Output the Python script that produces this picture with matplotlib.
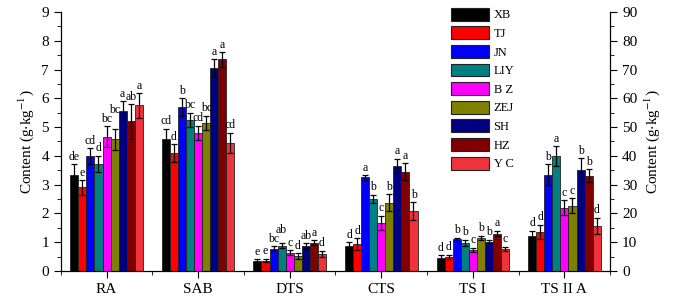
import matplotlib
matplotlib.use("Agg")
import matplotlib.pyplot as plt
import numpy as np
from matplotlib.ticker import MultipleLocator, FixedLocator

plt.rcParams["font.family"] = ["Liberation Serif", "DejaVu Serif"]
plt.rcParams["mathtext.fontset"] = "stix"

groups = ["RA", "SAB", "DTS", "CTS", "TS I", "TS II A"]
sites = ["XB", "TJ", "JN", "LIY", "BZ", "ZEJ", "SH", "HZ", "YC"]
colors = ["#000000", "#ff0000", "#0000ff", "#008080", "#ff00ff",
          "#808000", "#000080", "#800000", "#f0323c"]
legend_labels = ["XB", "TJ", "JN", "LIY", "B Z", "ZEJ", "SH", "HZ", "Y C"]

# left axis groups (g/kg), one value per site
ra = [3.35, 2.9, 3.98, 3.73, 4.67, 4.57, 5.55, 5.2, 5.75]
sab = [4.6, 4.1, 5.7, 5.25, 4.8, 5.15, 7.05, 7.35, 4.45]
dts = [0.35, 0.36, 0.77, 0.88, 0.63, 0.52, 0.87, 0.98, 0.6]
cts = [0.88, 0.94, 3.25, 2.5, 1.67, 2.37, 3.65, 3.45, 2.08]
ts1 = [0.46, 0.5, 1.1, 0.98, 0.73, 1.15, 1.02, 1.3, 0.77]
# right axis group
ts2a = [12.2, 13.6, 33.5, 39.8, 22.0, 22.7, 35.2, 33.1, 15.7]

ra_err = [0.35, 0.25, 0.28, 0.28, 0.35, 0.35, 0.35, 0.6, 0.42]
sab_err = [0.35, 0.3, 0.3, 0.25, 0.25, 0.25, 0.3, 0.25, 0.35]
dts_err = [0.06, 0.06, 0.08, 0.08, 0.08, 0.1, 0.1, 0.08, 0.1]
cts_err = [0.12, 0.2, 0.08, 0.15, 0.25, 0.3, 0.25, 0.3, 0.3]
ts1_err = [0.08, 0.07, 0.05, 0.1, 0.08, 0.07, 0.06, 0.1, 0.07]
ts2a_err = [1.8, 2.5, 3.5, 3.5, 2.5, 2.5, 4.0, 2.2, 2.8]

ra_sig = ["de", "e", "cd", "d", "bc", "bc", "a", "ab", "a"]
sab_sig = ["cd", "d", "b", "bc", "cd", "bc", "a", "a", "cd"]
dts_sig = ["e", "e", "bc", "ab", "c", "d", "ab", "a", "d"]
cts_sig = ["d", "d", "a", "b", "c", "b", "a", "a", "b"]
ts1_sig = ["d", "d", "b", "b", "c", "b", "b", "a", "c"]
ts2a_sig = ["d", "d", "b", "a", "c", "c", "b", "b", "d"]

left_vals = [ra, sab, dts, cts, ts1]
left_errs = [ra_err, sab_err, dts_err, cts_err, ts1_err]
left_sigs = [ra_sig, sab_sig, dts_sig, cts_sig, ts1_sig]

fig = plt.figure(figsize=(6.75, 3.0), dpi=100)
ax = fig.add_axes([0.09, 0.097, 0.814, 0.863])
ax2 = ax.twinx()

width = 0.088
offsets = (np.arange(len(sites)) - 4) * width


def draw_group(axis, gi, vals, errs, sigs, unit):
    # unit = data units per ~1 pixel-ish step of the letter height
    xs = gi + 0.5 + offsets
    for j in range(len(sites)):
        axis.bar(xs[j], vals[j], width, color=colors[j], edgecolor="#222222",
                 linewidth=0.6, zorder=2)
    axis.errorbar(xs, vals, yerr=errs, fmt="none", ecolor="black",
                  elinewidth=0.9, capsize=2.2, capthick=0.9, zorder=3)
    text_h = 0.3 * unit
    prev_y, prev_len = None, 0
    for j in range(len(sites)):
        y = vals[j] + errs[j] + 0.05 * unit
        # wide labels side by side: lift the later one so they don't collide
        if prev_y is not None and len(sigs[j]) > 1 and prev_len > 1 \
                and abs(y - prev_y) < text_h:
            y = prev_y + text_h
        axis.text(xs[j], y, sigs[j], ha="center", va="bottom", fontsize=8.5)
        prev_y, prev_len = y, len(sigs[j])


for gi in range(5):
    draw_group(ax, gi, left_vals[gi], left_errs[gi], left_sigs[gi], 1)
draw_group(ax2, 5, ts2a, ts2a_err, ts2a_sig, 10)

for a in (ax, ax2):
    a.set_xlim(0, 6)
    a.spines["top"].set_visible(False)

ax.set_ylim(0, 9)
ax2.set_ylim(0, 90)
ax.yaxis.set_major_locator(MultipleLocator(1))
ax.yaxis.set_minor_locator(MultipleLocator(0.5))
ax2.yaxis.set_major_locator(MultipleLocator(10))
ax2.yaxis.set_minor_locator(MultipleLocator(5))

ax.set_xticks(np.arange(6) + 0.5)
ax.set_xticklabels(groups)
ax.xaxis.set_minor_locator(FixedLocator(np.arange(7)))

ax.tick_params(axis="both", which="major", direction="out", length=5,
               labelsize=11)
ax.tick_params(axis="both", which="minor", direction="out", length=3)
ax2.tick_params(axis="y", which="major", direction="out", length=5,
                labelsize=11)
ax2.tick_params(axis="y", which="minor", direction="out", length=3)

ax.set_ylabel(r"Content (g$\cdot$kg$^{-1}$)", fontsize=11)
ax2.set_ylabel(r"Content (g$\cdot$kg$^{-1}$)", fontsize=11)

handles = [plt.Rectangle((0, 0), 1, 1, facecolor=c, edgecolor="#222222",
                         linewidth=0.8) for c in colors]
ax2.legend(handles, legend_labels, loc="upper left",
           bbox_to_anchor=(0.69, 1.06), frameon=False, fontsize=9,
           handlelength=3.0, handleheight=1.2, labelspacing=0.4,
           handletextpad=0.4)

fig.savefig("out.png", dpi=100)
